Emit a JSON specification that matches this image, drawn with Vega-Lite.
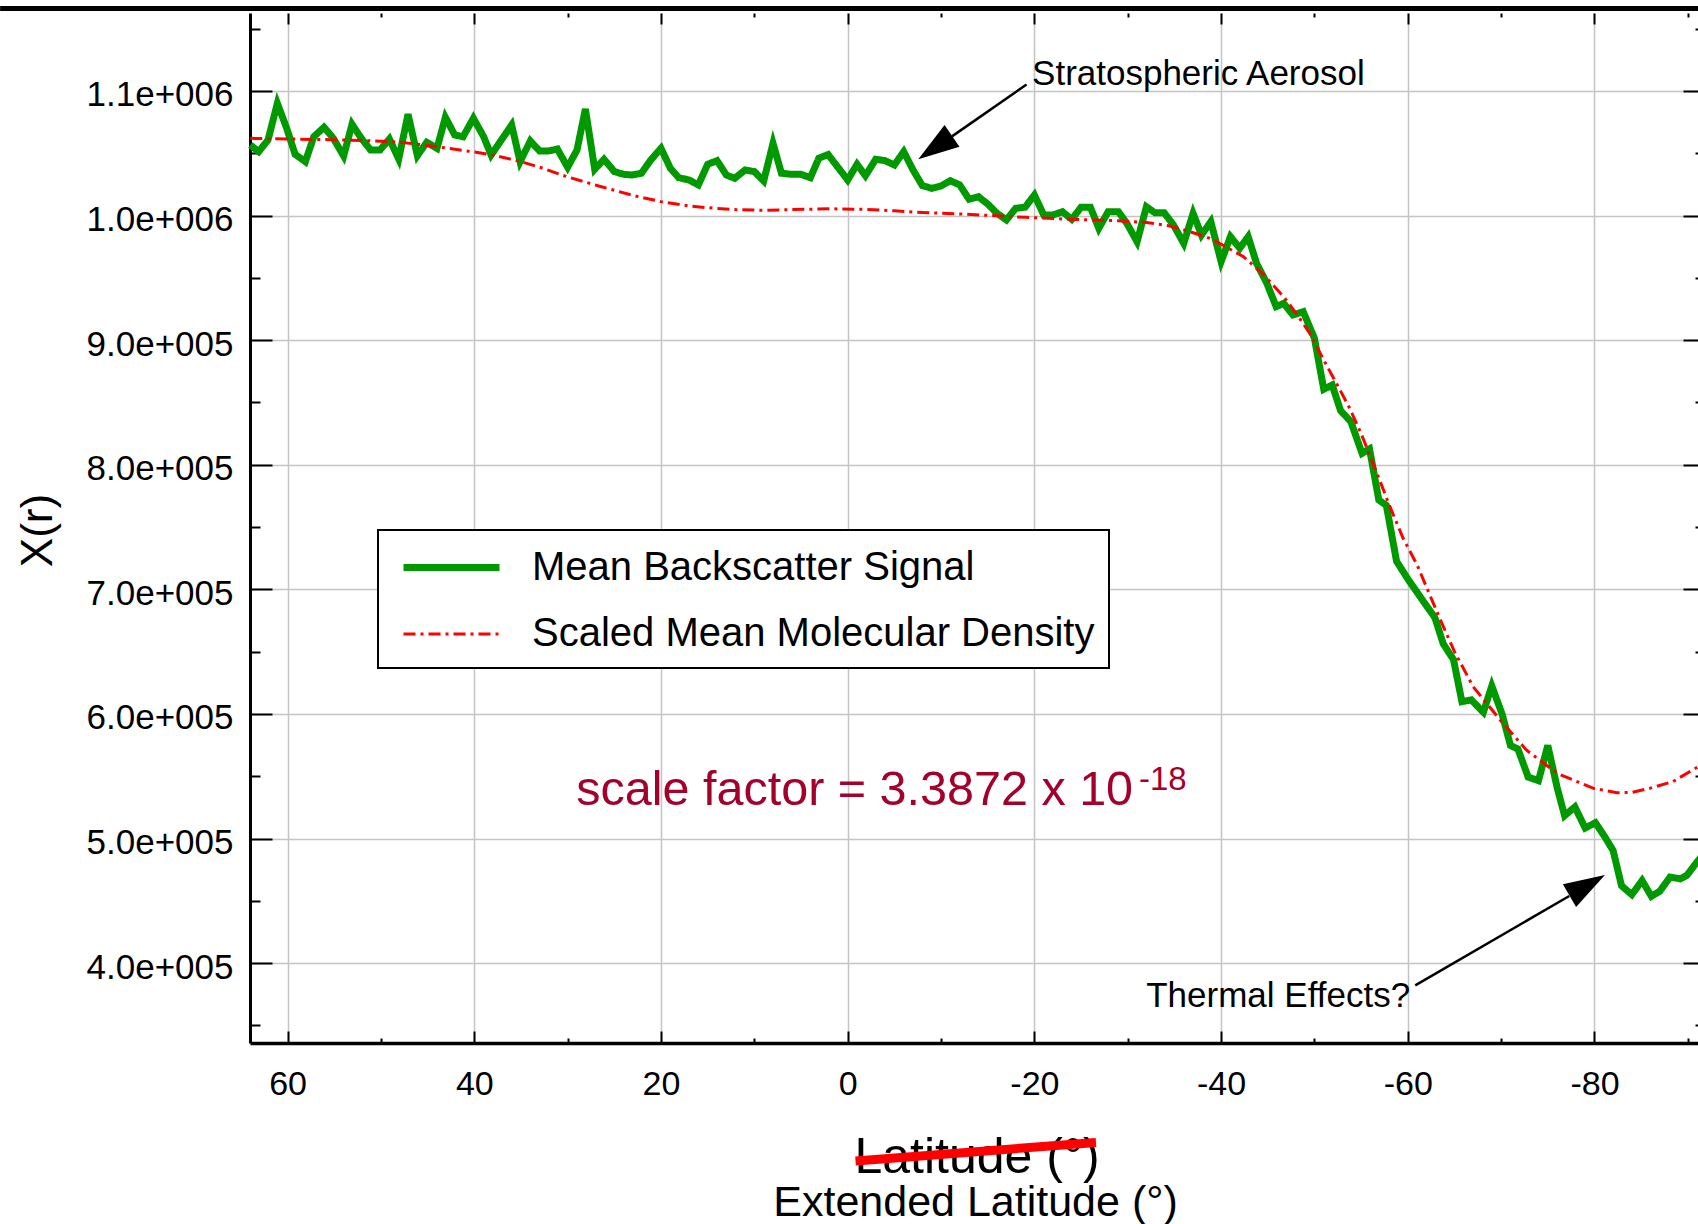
{
  "$schema": "https://vega.github.io/schema/vega-lite/v6.json",
  "width": 1448,
  "height": 1030,
  "autosize": {"type": "none"},
  "padding": {"left": 250, "top": 13, "right": 0, "bottom": 181},
  "background": "white",
  "config": {"view": {"stroke": null}, "font": "Liberation Sans"},
  "datasets": {
    "profiles": [
      {"series": "Mean Backscatter Signal", "lat": 64.0, "val": 1056700},
      {"series": "Mean Backscatter Signal", "lat": 63.1, "val": 1051300},
      {"series": "Mean Backscatter Signal", "lat": 62.1, "val": 1060700},
      {"series": "Mean Backscatter Signal", "lat": 61.1, "val": 1090100},
      {"series": "Mean Backscatter Signal", "lat": 60.1, "val": 1070100},
      {"series": "Mean Backscatter Signal", "lat": 59.2, "val": 1049200},
      {"series": "Mean Backscatter Signal", "lat": 58.1, "val": 1043300},
      {"series": "Mean Backscatter Signal", "lat": 57.2, "val": 1063300},
      {"series": "Mean Backscatter Signal", "lat": 56.1, "val": 1070900},
      {"series": "Mean Backscatter Signal", "lat": 55.1, "val": 1062000},
      {"series": "Mean Backscatter Signal", "lat": 54.0, "val": 1047800},
      {"series": "Mean Backscatter Signal", "lat": 53.1, "val": 1073300},
      {"series": "Mean Backscatter Signal", "lat": 52.1, "val": 1062000},
      {"series": "Mean Backscatter Signal", "lat": 51.1, "val": 1052600},
      {"series": "Mean Backscatter Signal", "lat": 50.1, "val": 1052600},
      {"series": "Mean Backscatter Signal", "lat": 49.1, "val": 1061500},
      {"series": "Mean Backscatter Signal", "lat": 48.1, "val": 1045400},
      {"series": "Mean Backscatter Signal", "lat": 47.1, "val": 1081300},
      {"series": "Mean Backscatter Signal", "lat": 46.1, "val": 1048100},
      {"series": "Mean Backscatter Signal", "lat": 45.1, "val": 1058800},
      {"series": "Mean Backscatter Signal", "lat": 44.0, "val": 1054000},
      {"series": "Mean Backscatter Signal", "lat": 43.1, "val": 1078900},
      {"series": "Mean Backscatter Signal", "lat": 42.1, "val": 1064700},
      {"series": "Mean Backscatter Signal", "lat": 41.2, "val": 1063300},
      {"series": "Mean Backscatter Signal", "lat": 40.1, "val": 1078100},
      {"series": "Mean Backscatter Signal", "lat": 39.0, "val": 1063300},
      {"series": "Mean Backscatter Signal", "lat": 38.2, "val": 1048600},
      {"series": "Mean Backscatter Signal", "lat": 37.1, "val": 1060700},
      {"series": "Mean Backscatter Signal", "lat": 36.0, "val": 1072700},
      {"series": "Mean Backscatter Signal", "lat": 35.1, "val": 1043300},
      {"series": "Mean Backscatter Signal", "lat": 34.0, "val": 1059900},
      {"series": "Mean Backscatter Signal", "lat": 33.0, "val": 1051800},
      {"series": "Mean Backscatter Signal", "lat": 32.1, "val": 1051800},
      {"series": "Mean Backscatter Signal", "lat": 31.1, "val": 1053400},
      {"series": "Mean Backscatter Signal", "lat": 30.0, "val": 1038800},
      {"series": "Mean Backscatter Signal", "lat": 29.0, "val": 1052600},
      {"series": "Mean Backscatter Signal", "lat": 28.1, "val": 1085600},
      {"series": "Mean Backscatter Signal", "lat": 27.1, "val": 1037200},
      {"series": "Mean Backscatter Signal", "lat": 26.1, "val": 1045200},
      {"series": "Mean Backscatter Signal", "lat": 25.0, "val": 1035300},
      {"series": "Mean Backscatter Signal", "lat": 24.0, "val": 1033100},
      {"series": "Mean Backscatter Signal", "lat": 23.1, "val": 1032600},
      {"series": "Mean Backscatter Signal", "lat": 22.1, "val": 1034000},
      {"series": "Mean Backscatter Signal", "lat": 21.1, "val": 1044600},
      {"series": "Mean Backscatter Signal", "lat": 20.0, "val": 1054000},
      {"series": "Mean Backscatter Signal", "lat": 19.0, "val": 1038000},
      {"series": "Mean Backscatter Signal", "lat": 18.1, "val": 1030400},
      {"series": "Mean Backscatter Signal", "lat": 17.0, "val": 1028600},
      {"series": "Mean Backscatter Signal", "lat": 16.0, "val": 1024600},
      {"series": "Mean Backscatter Signal", "lat": 15.0, "val": 1041200},
      {"series": "Mean Backscatter Signal", "lat": 14.0, "val": 1044100},
      {"series": "Mean Backscatter Signal", "lat": 13.0, "val": 1032600},
      {"series": "Mean Backscatter Signal", "lat": 12.1, "val": 1029900},
      {"series": "Mean Backscatter Signal", "lat": 11.0, "val": 1036600},
      {"series": "Mean Backscatter Signal", "lat": 10.0, "val": 1035300},
      {"series": "Mean Backscatter Signal", "lat": 9.0, "val": 1027800},
      {"series": "Mean Backscatter Signal", "lat": 8.0, "val": 1058000},
      {"series": "Mean Backscatter Signal", "lat": 7.1, "val": 1034000},
      {"series": "Mean Backscatter Signal", "lat": 6.0, "val": 1033100},
      {"series": "Mean Backscatter Signal", "lat": 5.0, "val": 1033100},
      {"series": "Mean Backscatter Signal", "lat": 4.0, "val": 1030400},
      {"series": "Mean Backscatter Signal", "lat": 3.1, "val": 1046000},
      {"series": "Mean Backscatter Signal", "lat": 2.1, "val": 1049000},
      {"series": "Mean Backscatter Signal", "lat": 0.0, "val": 1028600},
      {"series": "Mean Backscatter Signal", "lat": -1.0, "val": 1041200},
      {"series": "Mean Backscatter Signal", "lat": -1.9, "val": 1032000},
      {"series": "Mean Backscatter Signal", "lat": -3.0, "val": 1045200},
      {"series": "Mean Backscatter Signal", "lat": -4.0, "val": 1044100},
      {"series": "Mean Backscatter Signal", "lat": -5.0, "val": 1040600},
      {"series": "Mean Backscatter Signal", "lat": -6.0, "val": 1051300},
      {"series": "Mean Backscatter Signal", "lat": -7.0, "val": 1036600},
      {"series": "Mean Backscatter Signal", "lat": -8.0, "val": 1024000},
      {"series": "Mean Backscatter Signal", "lat": -9.0, "val": 1021900},
      {"series": "Mean Backscatter Signal", "lat": -10.0, "val": 1023800},
      {"series": "Mean Backscatter Signal", "lat": -11.0, "val": 1028000},
      {"series": "Mean Backscatter Signal", "lat": -12.0, "val": 1024600},
      {"series": "Mean Backscatter Signal", "lat": -13.0, "val": 1013100},
      {"series": "Mean Backscatter Signal", "lat": -14.0, "val": 1015200},
      {"series": "Mean Backscatter Signal", "lat": -15.0, "val": 1009300},
      {"series": "Mean Backscatter Signal", "lat": -16.0, "val": 1001800},
      {"series": "Mean Backscatter Signal", "lat": -17.0, "val": 996500},
      {"series": "Mean Backscatter Signal", "lat": -18.0, "val": 1005900},
      {"series": "Mean Backscatter Signal", "lat": -19.0, "val": 1006700},
      {"series": "Mean Backscatter Signal", "lat": -20.0, "val": 1016500},
      {"series": "Mean Backscatter Signal", "lat": -21.0, "val": 1000500},
      {"series": "Mean Backscatter Signal", "lat": -22.0, "val": 1000500},
      {"series": "Mean Backscatter Signal", "lat": -23.0, "val": 1003100},
      {"series": "Mean Backscatter Signal", "lat": -24.0, "val": 997000},
      {"series": "Mean Backscatter Signal", "lat": -25.0, "val": 1006700},
      {"series": "Mean Backscatter Signal", "lat": -26.0, "val": 1006700},
      {"series": "Mean Backscatter Signal", "lat": -26.9, "val": 989800},
      {"series": "Mean Backscatter Signal", "lat": -27.9, "val": 1003100},
      {"series": "Mean Backscatter Signal", "lat": -29.0, "val": 1003100},
      {"series": "Mean Backscatter Signal", "lat": -29.9, "val": 993800},
      {"series": "Mean Backscatter Signal", "lat": -31.0, "val": 979000},
      {"series": "Mean Backscatter Signal", "lat": -32.0, "val": 1007100},
      {"series": "Mean Backscatter Signal", "lat": -32.9, "val": 1002300},
      {"series": "Mean Backscatter Signal", "lat": -33.9, "val": 1002300},
      {"series": "Mean Backscatter Signal", "lat": -34.9, "val": 992500},
      {"series": "Mean Backscatter Signal", "lat": -36.0, "val": 977700},
      {"series": "Mean Backscatter Signal", "lat": -37.0, "val": 1001800},
      {"series": "Mean Backscatter Signal", "lat": -37.9, "val": 984400},
      {"series": "Mean Backscatter Signal", "lat": -38.9, "val": 995100},
      {"series": "Mean Backscatter Signal", "lat": -40.0, "val": 963000},
      {"series": "Mean Backscatter Signal", "lat": -41.0, "val": 983100},
      {"series": "Mean Backscatter Signal", "lat": -42.0, "val": 973800},
      {"series": "Mean Backscatter Signal", "lat": -42.9, "val": 983100},
      {"series": "Mean Backscatter Signal", "lat": -43.8, "val": 961700},
      {"series": "Mean Backscatter Signal", "lat": -44.9, "val": 945700},
      {"series": "Mean Backscatter Signal", "lat": -45.9, "val": 926900},
      {"series": "Mean Backscatter Signal", "lat": -46.7, "val": 929600},
      {"series": "Mean Backscatter Signal", "lat": -47.7, "val": 920200},
      {"series": "Mean Backscatter Signal", "lat": -48.8, "val": 922900},
      {"series": "Mean Backscatter Signal", "lat": -50.0, "val": 901500},
      {"series": "Mean Backscatter Signal", "lat": -51.0, "val": 860600},
      {"series": "Mean Backscatter Signal", "lat": -51.9, "val": 864000},
      {"series": "Mean Backscatter Signal", "lat": -52.8, "val": 843500},
      {"series": "Mean Backscatter Signal", "lat": -53.9, "val": 834600},
      {"series": "Mean Backscatter Signal", "lat": -55.1, "val": 809200},
      {"series": "Mean Backscatter Signal", "lat": -55.9, "val": 812700},
      {"series": "Mean Backscatter Signal", "lat": -56.9, "val": 771700},
      {"series": "Mean Backscatter Signal", "lat": -57.7, "val": 767500},
      {"series": "Mean Backscatter Signal", "lat": -58.8, "val": 722500},
      {"series": "Mean Backscatter Signal", "lat": -60.0, "val": 708400},
      {"series": "Mean Backscatter Signal", "lat": -61.7, "val": 690100},
      {"series": "Mean Backscatter Signal", "lat": -62.9, "val": 677400},
      {"series": "Mean Backscatter Signal", "lat": -63.8, "val": 656300},
      {"series": "Mean Backscatter Signal", "lat": -64.9, "val": 643600},
      {"series": "Mean Backscatter Signal", "lat": -65.8, "val": 609900},
      {"series": "Mean Backscatter Signal", "lat": -66.8, "val": 611300},
      {"series": "Mean Backscatter Signal", "lat": -68.1, "val": 601400},
      {"series": "Mean Backscatter Signal", "lat": -69.0, "val": 622500},
      {"series": "Mean Backscatter Signal", "lat": -70.1, "val": 600000},
      {"series": "Mean Backscatter Signal", "lat": -71.0, "val": 574700},
      {"series": "Mean Backscatter Signal", "lat": -71.8, "val": 571900},
      {"series": "Mean Backscatter Signal", "lat": -72.9, "val": 549300},
      {"series": "Mean Backscatter Signal", "lat": -74.0, "val": 546500},
      {"series": "Mean Backscatter Signal", "lat": -75.0, "val": 574700},
      {"series": "Mean Backscatter Signal", "lat": -76.0, "val": 540900},
      {"series": "Mean Backscatter Signal", "lat": -76.8, "val": 518400},
      {"series": "Mean Backscatter Signal", "lat": -77.9, "val": 525400},
      {"series": "Mean Backscatter Signal", "lat": -79.0, "val": 508500},
      {"series": "Mean Backscatter Signal", "lat": -80.1, "val": 512700},
      {"series": "Mean Backscatter Signal", "lat": -81.1, "val": 501500},
      {"series": "Mean Backscatter Signal", "lat": -82.0, "val": 490300},
      {"series": "Mean Backscatter Signal", "lat": -82.9, "val": 462100},
      {"series": "Mean Backscatter Signal", "lat": -84.0, "val": 455000},
      {"series": "Mean Backscatter Signal", "lat": -85.1, "val": 466300},
      {"series": "Mean Backscatter Signal", "lat": -86.1, "val": 453600},
      {"series": "Mean Backscatter Signal", "lat": -87.0, "val": 457800},
      {"series": "Mean Backscatter Signal", "lat": -88.1, "val": 469100},
      {"series": "Mean Backscatter Signal", "lat": -89.2, "val": 467700},
      {"series": "Mean Backscatter Signal", "lat": -89.9, "val": 470500},
      {"series": "Mean Backscatter Signal", "lat": -90.9, "val": 480400},
      {"series": "Mean Backscatter Signal", "lat": -91.5, "val": 486000},
      {"series": "Scaled Mean Molecular Density", "lat": 64.0, "val": 1062000},
      {"series": "Scaled Mean Molecular Density", "lat": 60.0, "val": 1061500},
      {"series": "Scaled Mean Molecular Density", "lat": 56.0, "val": 1061000},
      {"series": "Scaled Mean Molecular Density", "lat": 52.0, "val": 1060300},
      {"series": "Scaled Mean Molecular Density", "lat": 48.0, "val": 1059000},
      {"series": "Scaled Mean Molecular Density", "lat": 44.0, "val": 1055300},
      {"series": "Scaled Mean Molecular Density", "lat": 40.0, "val": 1051000},
      {"series": "Scaled Mean Molecular Density", "lat": 38.0, "val": 1048600},
      {"series": "Scaled Mean Molecular Density", "lat": 35.0, "val": 1043300},
      {"series": "Scaled Mean Molecular Density", "lat": 33.0, "val": 1038800},
      {"series": "Scaled Mean Molecular Density", "lat": 30.0, "val": 1031000},
      {"series": "Scaled Mean Molecular Density", "lat": 26.4, "val": 1023200},
      {"series": "Scaled Mean Molecular Density", "lat": 23.0, "val": 1016200},
      {"series": "Scaled Mean Molecular Density", "lat": 20.0, "val": 1011200},
      {"series": "Scaled Mean Molecular Density", "lat": 17.0, "val": 1007700},
      {"series": "Scaled Mean Molecular Density", "lat": 15.0, "val": 1006300},
      {"series": "Scaled Mean Molecular Density", "lat": 12.0, "val": 1004800},
      {"series": "Scaled Mean Molecular Density", "lat": 9.0, "val": 1004300},
      {"series": "Scaled Mean Molecular Density", "lat": 6.0, "val": 1004800},
      {"series": "Scaled Mean Molecular Density", "lat": 2.0, "val": 1005500},
      {"series": "Scaled Mean Molecular Density", "lat": -2.0, "val": 1005000},
      {"series": "Scaled Mean Molecular Density", "lat": -5.0, "val": 1003800},
      {"series": "Scaled Mean Molecular Density", "lat": -8.0, "val": 1002500},
      {"series": "Scaled Mean Molecular Density", "lat": -12.0, "val": 1001300},
      {"series": "Scaled Mean Molecular Density", "lat": -15.0, "val": 1000200},
      {"series": "Scaled Mean Molecular Density", "lat": -19.0, "val": 998600},
      {"series": "Scaled Mean Molecular Density", "lat": -24.0, "val": 997000},
      {"series": "Scaled Mean Molecular Density", "lat": -29.0, "val": 995800},
      {"series": "Scaled Mean Molecular Density", "lat": -32.0, "val": 994500},
      {"series": "Scaled Mean Molecular Density", "lat": -34.5, "val": 991700},
      {"series": "Scaled Mean Molecular Density", "lat": -36.5, "val": 987500},
      {"series": "Scaled Mean Molecular Density", "lat": -38.8, "val": 981800},
      {"series": "Scaled Mean Molecular Density", "lat": -40.5, "val": 975000},
      {"series": "Scaled Mean Molecular Density", "lat": -42.4, "val": 967000},
      {"series": "Scaled Mean Molecular Density", "lat": -44.5, "val": 953000},
      {"series": "Scaled Mean Molecular Density", "lat": -46.7, "val": 934900},
      {"series": "Scaled Mean Molecular Density", "lat": -48.0, "val": 922000},
      {"series": "Scaled Mean Molecular Density", "lat": -49.5, "val": 905500},
      {"series": "Scaled Mean Molecular Density", "lat": -51.0, "val": 884000},
      {"series": "Scaled Mean Molecular Density", "lat": -52.6, "val": 862000},
      {"series": "Scaled Mean Molecular Density", "lat": -53.8, "val": 845000},
      {"series": "Scaled Mean Molecular Density", "lat": -55.0, "val": 825000},
      {"series": "Scaled Mean Molecular Density", "lat": -56.5, "val": 797000},
      {"series": "Scaled Mean Molecular Density", "lat": -58.0, "val": 768000},
      {"series": "Scaled Mean Molecular Density", "lat": -59.5, "val": 741000},
      {"series": "Scaled Mean Molecular Density", "lat": -61.0, "val": 719600},
      {"series": "Scaled Mean Molecular Density", "lat": -63.5, "val": 675400},
      {"series": "Scaled Mean Molecular Density", "lat": -65.0, "val": 650000},
      {"series": "Scaled Mean Molecular Density", "lat": -67.0, "val": 621900},
      {"series": "Scaled Mean Molecular Density", "lat": -69.9, "val": 595200},
      {"series": "Scaled Mean Molecular Density", "lat": -72.7, "val": 571100},
      {"series": "Scaled Mean Molecular Density", "lat": -76.0, "val": 552400},
      {"series": "Scaled Mean Molecular Density", "lat": -79.9, "val": 540300},
      {"series": "Scaled Mean Molecular Density", "lat": -82.4, "val": 536800},
      {"series": "Scaled Mean Molecular Density", "lat": -84.0, "val": 537000},
      {"series": "Scaled Mean Molecular Density", "lat": -85.9, "val": 540300},
      {"series": "Scaled Mean Molecular Density", "lat": -88.4, "val": 545700},
      {"series": "Scaled Mean Molecular Density", "lat": -91.1, "val": 557700}
    ],
    "topbar": [{"lat": 90.8, "lat2": -91.2, "val": 1166200}],
    "arrow1": [{"lat": -19.16, "val": 1105200}, {"lat": -11.17, "val": 1063600}],
    "arrow1tip": [{"lat": -7.56, "val": 1045300}],
    "arrow2": [{"lat": -60.8, "val": 382200}, {"lat": -77.3, "val": 453900}],
    "arrow2tip": [{"lat": -81.12, "val": 470800}],
    "strike": [{"lat": -0.84, "val": 241300}, {"lat": -26.6, "val": 256100}],
    "oldtitle": [{"lat": -13.85, "val": 231600, "label": "Latitude (°)"}],
    "note1": [{"lat": -19.75, "val": 1104800, "label": "Stratospheric Aerosol"}],
    "note2": [{"lat": -60.25, "val": 364800, "label": "Thermal Effects?"}],
    "scale": [{"lat": 29.07, "val": 526900, "label": "scale factor = 3.3872 x 10"}],
    "scaleexp": [{"lat": -31.2, "val": 539000, "label": "-18"}]
  },
  "resolve": {"axis": {"x": "independent", "y": "independent"}},
  "encoding": {
    "x": {"field": "lat", "type": "quantitative", "scale": {"domain": [-91.09, 64.03], "reverse": true, "nice": false, "zero": false}, "axis": null},
    "y": {"field": "val", "type": "quantitative", "scale": {"domain": [335925, 1162600], "nice": false, "zero": false}, "axis": null}
  },
  "layer": [
    {
      "data": {"name": "profiles"},
      "mark": {"type": "line", "strokeCap": "butt", "strokeJoin": "miter"},
      "encoding": {
        "x": {"field": "lat", "type": "quantitative", "scale": {"domain": [-91.09, 64.03], "reverse": true, "nice": false, "zero": false},
          "axis": {"orient": "bottom", "values": [60, 40, 20, 0, -20, -40, -60, -80], "grid": true, "gridColor": "#c4c4c4", "gridWidth": 1.5,
            "domain": true, "domainColor": "black", "domainWidth": 3.5, "ticks": true, "tickSize": -12, "tickWidth": 2, "tickColor": "black",
            "labelFont": "Liberation Sans", "labelFontSize": 34, "labelColor": "black", "labelPadding": 63, "labelBaseline": "alphabetic",
            "labelExpr": "'' + datum.value", "labelFlush": false, "labelOverlap": false,
            "title": "Extended Latitude (°)", "titleFont": "Liberation Sans", "titleFontSize": 43, "titleFontWeight": "normal",
            "titleColor": "black", "titleX": 725, "titleY": 172, "titleBaseline": "alphabetic", "titleAlign": "center", "titleAngle": 0}},
        "y": {"field": "val", "type": "quantitative", "scale": {"domain": [335925, 1162600], "nice": false, "zero": false},
          "axis": {"orient": "left", "values": [400000, 500000, 600000, 700000, 800000, 900000, 1000000, 1100000], "grid": true, "gridColor": "#c4c4c4", "gridWidth": 1.5,
            "domain": true, "domainColor": "black", "domainWidth": 3, "ticks": true, "tickSize": -22, "tickWidth": 2, "tickColor": "black",
            "labelFont": "Liberation Sans", "labelFontSize": 35, "labelColor": "black", "labelPadding": 39, "labelAlign": "right", "labelBaseline": "middle", "labelOffset": 4,
            "labelExpr": "datum.value >= 999999 ? format(datum.value / 1000000, '.1f') + 'e+006' : format(datum.value / 100000, '.1f') + 'e+005'",
            "labelFlush": false, "labelOverlap": false,
            "title": "X(r)", "titleFont": "Liberation Sans", "titleFontSize": 44, "titleFontWeight": "normal", "titleColor": "black",
            "titleAngle": -90, "titleX": -212, "titleY": 517, "titleAlign": "center", "titleBaseline": "middle"}},
        "color": {"field": "series", "type": "nominal",
          "scale": {"domain": ["Mean Backscatter Signal", "Scaled Mean Molecular Density"], "range": ["#009900", "#ff0000"]},
          "legend": {"orient": "none", "legendX": 128, "legendY": 517, "title": null, "labelFont": "Liberation Sans", "labelFontSize": 40,
            "labelColor": "black", "symbolType": "M-2.4,0L2.4,0", "symbolSize": 1600, "labelOffset": 57, "padding": 14, "rowPadding": 24.5,
            "symbolOffset": 36, "strokeColor": "black", "fillColor": "white", "labelLimit": 1000,
            "encode": {"legend": {"update": {"strokeWidth": {"value": 2}}}}}},
        "strokeDash": {"field": "series", "type": "nominal",
          "scale": {"domain": ["Mean Backscatter Signal", "Scaled Mean Molecular Density"], "range": [[1, 0], [12, 5, 3, 5]]}, "legend": null},
        "strokeWidth": {"field": "series", "type": "nominal",
          "scale": {"domain": ["Mean Backscatter Signal", "Scaled Mean Molecular Density"], "range": [7, 3]}, "legend": null},
        "order": {"field": "lat", "type": "quantitative", "sort": "descending"}
      }
    },
    {
      "data": {"name": "topbar"},
      "mark": {"type": "rule", "color": "black", "strokeWidth": 5},
      "encoding": {"x2": {"field": "lat2"}}
    },
    {
      "data": {"name": "arrow1"},
      "mark": {"type": "line", "color": "black", "strokeWidth": 2.5},
      "encoding": {
        "x": {"field": "lat", "type": "quantitative", "scale": {"domain": [-91.09, 64.03], "reverse": true, "nice": false, "zero": false},
          "axis": {"orient": "bottom", "values": [50, 30, 10, -10, -30, -50, -70, -90], "grid": false, "domain": false, "labels": false,
            "ticks": true, "tickSize": -5, "tickWidth": 2, "tickColor": "black", "title": null}},
        "y": {"field": "val", "type": "quantitative", "scale": {"domain": [335925, 1162600], "nice": false, "zero": false},
          "axis": {"orient": "left", "values": [350000, 450000, 550000, 650000, 750000, 850000, 950000, 1050000, 1150000], "grid": false, "domain": false, "labels": false,
            "ticks": true, "tickSize": -10, "tickWidth": 2, "tickColor": "black", "title": null}}
      }
    },
    {
      "data": {"name": "arrow2"},
      "mark": {"type": "line", "color": "black", "strokeWidth": 2.5},
      "encoding": {
        "x": {"field": "lat", "type": "quantitative", "scale": {"domain": [-91.09, 64.03], "reverse": true, "nice": false, "zero": false},
          "axis": {"orient": "top", "values": [60, 40, 20, 0, -20, -40, -60, -80], "grid": false, "domain": false, "labels": false,
            "ticks": true, "tickSize": -11, "tickWidth": 2, "tickColor": "black", "title": null}},
        "y": {"field": "val", "type": "quantitative", "scale": {"domain": [335925, 1162600], "nice": false, "zero": false},
          "axis": {"orient": "right", "values": [400000, 500000, 600000, 700000, 800000, 900000, 1000000, 1100000], "grid": false, "domain": false, "labels": false,
            "ticks": true, "tickSize": -15, "tickWidth": 2, "tickColor": "black", "title": null}}
      }
    },
    {
      "data": {"name": "oldtitle"},
      "mark": {"type": "text", "font": "Liberation Sans", "fontSize": 50, "align": "center", "baseline": "alphabetic", "color": "black"},
      "encoding": {"text": {"field": "label"}}
    },
    {
      "data": {"name": "strike"},
      "mark": {"type": "line", "color": "#ff0000", "strokeWidth": 9, "strokeCap": "butt"},
      "encoding": {
        "x": {"field": "lat", "type": "quantitative", "scale": {"domain": [-91.09, 64.03], "reverse": true, "nice": false, "zero": false},
          "axis": {"orient": "top", "values": [50, 30, 10, -10, -30, -50, -70, -90], "grid": false, "domain": false, "labels": false,
            "ticks": true, "tickSize": -4, "tickWidth": 2, "tickColor": "black", "title": null}},
        "y": {"field": "val", "type": "quantitative", "scale": {"domain": [335925, 1162600], "nice": false, "zero": false},
          "axis": {"orient": "right", "values": [350000, 450000, 550000, 650000, 750000, 850000, 950000, 1050000, 1150000], "grid": false, "domain": false, "labels": false,
            "ticks": true, "tickSize": -3, "tickWidth": 2, "tickColor": "black", "title": null}}
      }
    },
    {
      "data": {"name": "arrow1tip"},
      "mark": {"type": "point", "shape": "M0,0L0.32,1L-0.32,1Z", "size": 6724, "angle": 235.4, "filled": true, "color": "black", "opacity": 1, "strokeWidth": 0}
    },
    {
      "data": {"name": "arrow2tip"},
      "mark": {"type": "point", "shape": "M0,0L0.32,1L-0.32,1Z", "size": 6724, "angle": 59.8, "filled": true, "color": "black", "opacity": 1, "strokeWidth": 0}
    },
    {
      "data": {"name": "note1"},
      "mark": {"type": "text", "font": "Liberation Sans", "fontSize": 35, "align": "left", "baseline": "alphabetic", "color": "black"},
      "encoding": {"text": {"field": "label"}}
    },
    {
      "data": {"name": "note2"},
      "mark": {"type": "text", "font": "Liberation Sans", "fontSize": 35, "align": "right", "baseline": "alphabetic", "color": "black"},
      "encoding": {"text": {"field": "label"}}
    },
    {
      "data": {"name": "scale"},
      "mark": {"type": "text", "font": "Liberation Sans", "fontSize": 48.5, "align": "left", "baseline": "alphabetic", "color": "#a3002b"},
      "encoding": {"text": {"field": "label"}}
    },
    {
      "data": {"name": "scaleexp"},
      "mark": {"type": "text", "font": "Liberation Sans", "fontSize": 33, "align": "left", "baseline": "alphabetic", "color": "#a3002b"},
      "encoding": {"text": {"field": "label"}}
    }
  ]
}
